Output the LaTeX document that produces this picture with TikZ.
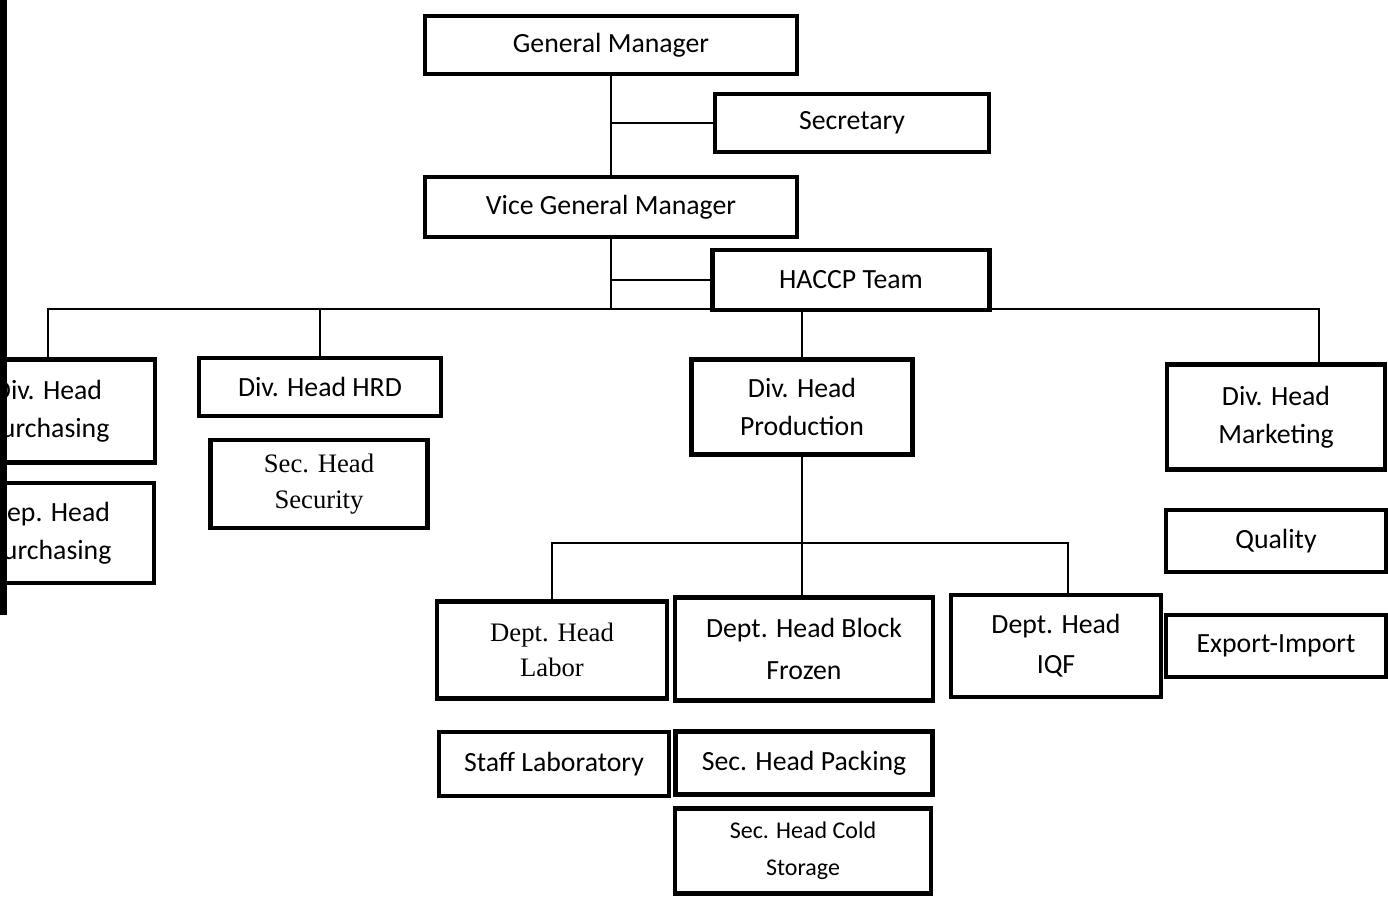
\documentclass[tikz,border=0pt]{standalone}
\usepackage{fontspec}
\setmainfont{Carlito}
\newfontfamily\timesfont{Liberation Serif}
\begin{document}
\begin{tikzpicture}[x=0.45pt,y=-0.45pt,
		post/.style={draw, line width=2.2pt, inner sep=0pt, align=center, font=\fontsize{12.5}{17}\selectfont},
		link/.style={line width=0.7pt}]
	\useasboundingbox (0,0) rectangle (1388,902);
	\fill[black] (0,0) rectangle (7,615);
	\begin{scope}
		\clip (7,0) rectangle (1388,902);
		% top of the chart
		\node[post, minimum width=167.4pt, minimum height=26.1pt] (gm) at (611,45) {General Manager};
		\node[post, minimum width=123.3pt, minimum height=26.1pt] (secr) at (852,123) {Secretary};
		\node[post, minimum width=167.4pt, minimum height=27pt] (vgm) at (611,207) {Vice General Manager};
		\node[post, minimum width=124.7pt, minimum height=27pt] (haccp) at (851,280) {HACCP Team};
		\coordinate (bus) at (0,309);
		\coordinate (sub) at (0,543);
		% divisions
		\node[post, minimum width=96.3pt, minimum height=46.4pt] (divpur) at (48,411) {Div. Head\\Purchasing};
		\node[post, minimum width=93.6pt, minimum height=45pt] (deppur) at (50,533) {Dep. Head\\Purchasing};
		\node[post, minimum width=108.9pt, minimum height=26.1pt] (divhrd) at (320,387) {Div. Head HRD};
		\node[post, minimum width=97.7pt, minimum height=39.6pt, font=\timesfont\fontsize{12}{16}\selectfont] (sechse) at (319,484) {Sec. Head\\Security};
		\node[post, minimum width=99.5pt, minimum height=42.8pt] (divprod) at (802,407) {Div. Head\\Production};
		\node[post, minimum width=98.1pt, minimum height=47.3pt] (divmkt) at (1276,417) {Div. Head\\Marketing};
		\node[post, minimum width=99pt, minimum height=27.9pt] (quality) at (1276,541) {Quality};
		\node[post, minimum width=99pt, minimum height=27.9pt] (expimp) at (1276,646) {Export-Import};
		% production departments
		\node[post, minimum width=103.5pt, minimum height=43.7pt, font=\timesfont\fontsize{12}{16}\selectfont] (deptlab) at (552,650) {Dept. Head\\Labor};
		\node[post, minimum width=116.1pt, minimum height=46.4pt, font=\fontsize{12.5}{19}\selectfont] (deptblock) at (804,649) {Dept. Head Block\\Frozen};
		\node[post, minimum width=94.5pt, minimum height=45.9pt, font=\fontsize{12.5}{18}\selectfont] (deptiqf) at (1056,646) {Dept. Head\\IQF};
		\node[post, minimum width=103.5pt, minimum height=28.8pt] (stafflab) at (554,764) {Staff Laboratory};
		\node[post, minimum width=115.7pt, minimum height=28.4pt] (secpack) at (804,763) {Sec. Head Packing};
		\node[post, minimum width=115.2pt, minimum height=38.3pt, font=\fontsize{10.8}{16.6}\selectfont] (seccold) at (803,851) {Sec. Head Cold\\Storage};
		% connectors
		\coordinate (mktdrop) at (1319,309);
		\coordinate (iqfdrop) at (1068,543);
		\draw[link] (gm.south) -- (vgm.north);
		\draw[link] (secr.west) -- (secr.west -| gm.south);
		\draw[link] (vgm.south) -- (vgm.south |- bus);
		\draw[link] (haccp.west) -- (haccp.west -| vgm.south);
		\draw[link] (divpur.north) |- (mktdrop) -- (mktdrop |- divmkt.north);
		\draw[link] (divhrd.north) -- (divhrd.north |- bus);
		\draw[link] (divprod.north |- bus) -- (divprod.north);
		\draw[link] (divprod.south) -- (divprod.south |- deptblock.north);
		\draw[link] (deptlab.north) |- (iqfdrop) -- (iqfdrop |- deptiqf.north);
	\end{scope}
\end{tikzpicture}
\end{document}
